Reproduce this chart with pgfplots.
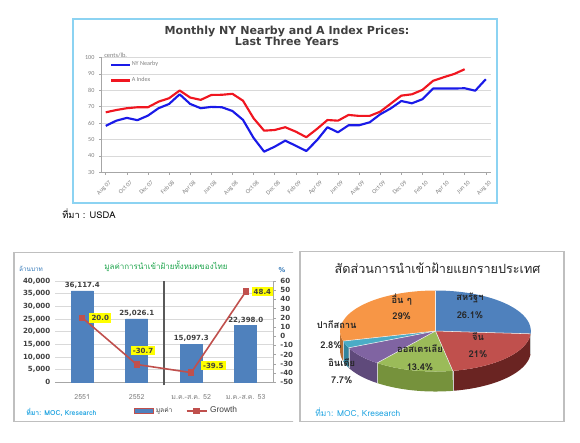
\documentclass[border=0pt]{standalone}
\usepackage{fontspec}
\usepackage{pgfplots}
\usepackage{pgfplotstable}
\pgfplotsset{compat=1.18}
\setmainfont{Carlito}
\newfontfamily\thai[Script=Thai]{Loma}
\newfontfamily\dvs{DejaVu Sans}
\newfontfamily\arial{Liberation Sans}

% colours
\definecolor{nyblue}{HTML}{1A1AE8}
\definecolor{aired}{HTML}{F01620}
\definecolor{frameblue}{HTML}{8CD3F2}
\definecolor{gridgray}{HTML}{D9D9D9}
\definecolor{axisgray}{HTML}{A6A6A6}
\definecolor{ticktext}{HTML}{7F7F7F}
\definecolor{ttldark}{HTML}{404040}
\definecolor{barblue}{HTML}{4F81BD}
\definecolor{linered}{HTML}{C0504D}
\definecolor{srcblue}{HTML}{1FA3E0}
\definecolor{unitblue}{HTML}{2E75B6}
\definecolor{ttlgreen}{HTML}{1BA34A}
\definecolor{boxgray}{HTML}{BFBFBF}
\definecolor{sepgray}{HTML}{595959}
\definecolor{labyellow}{HTML}{FFFF00}
\definecolor{pBlue}{HTML}{4F81BD}
\definecolor{pRed}{HTML}{C0504D}
\definecolor{pGreen}{HTML}{9BBB59}
\definecolor{pPurple}{HTML}{8064A2}
\definecolor{pCyan}{HTML}{4BACC6}
\definecolor{pOrange}{HTML}{F79646}
\definecolor{sBlue}{HTML}{385D8A}
\definecolor{sRed}{HTML}{6A2422}
\definecolor{sGreen}{HTML}{76923C}
\definecolor{sPurple}{HTML}{5F4A7B}
\definecolor{sCyan}{HTML}{31859C}
\definecolor{sOrange}{HTML}{B66D31}

% monthly prices, Aug 07 (m=0) to Aug 10 (m=36), cents/lb.
\pgfplotstableread{
m ny ai
0 58.3 66.6
1 61.5 68.0
2 63.2 69.1
3 61.8 69.7
4 64.6 69.7
5 69.1 73.1
6 71.7 75.2
7 77.6 79.9
8 71.7 75.6
9 69.1 74.2
10 69.9 77.2
11 69.7 77.3
12 67.4 77.9
13 62.0 73.7
14 51.0 63.0
15 42.6 55.4
16 45.6 55.8
17 49.3 57.5
18 46.2 54.8
19 43.0 51.4
20 49.5 56.4
21 57.5 61.9
22 54.4 61.5
23 58.7 65.0
24 58.7 64.4
25 60.5 64.4
26 65.4 67.0
27 69.0 71.9
28 73.5 76.8
29 72.1 77.6
30 74.6 80.3
31 81.1 85.8
32 81.1 88.0
33 81.1 90.0
34 81.3 92.9
35 79.8 nan
36 86.8 nan
}\prices

% cotton imports: value (million baht), growth (%), label offsets (pt)
\pgfplotstableread{
x val gr dx dy
0 36117.4 20.0 13.5 0
1 25026.1 -30.7 4.7 10.4
2 15097.3 -39.5 16.5 5.3
3 22398.0 48.4 12.5 0
}\imports

% pie helpers (unit ellipse, angles in degrees)
\newcommand\pietop[3]{\fill[#3] (0,0) -- plot[domain=#1:#2, samples=60] ({cos(\x)},{sin(\x)}) -- cycle;}
\newcommand\pieside[3]{\fill[#3] plot[domain=#1:#2, samples=40] ({cos(\x)},{sin(\x)})
   -- plot[domain=#1:#2, samples=40] ({cos(#1+#2-\x)},{sin(#1+#2-\x)-0.494}) -- cycle;}
\newcommand\pieedge[1]{\draw[white!85!gray, line width=0.4pt] (0,0) -- ({cos(#1)},{sin(#1)});}
\newcommand\sideedge[1]{\draw[white!60!gray, line width=0.3pt] ({cos(#1)},{sin(#1)}) -- ({cos(#1)},{sin(#1)-0.494});}

\begin{document}
\begin{tikzpicture}
\path[use as bounding box] (0pt,0pt) rectangle (435pt,-331.5pt);

% ---------- price chart ----------
\begin{scope}[x=0.75pt,y=-0.75pt]
  \draw[frameblue, line width=1.1pt] (73,19) rectangle (497,203);
  \node[font=\dvs\bfseries\fontsize{8.3}{8.8}\selectfont, text=ttldark, align=center] at (287,36)
    {Monthly NY Nearby and A Index Prices:\\Last Three Years};
  \node[anchor=west, font=\fontsize{4.8}{5}\selectfont, text=ticktext, inner sep=0pt] at (104,55) {cents/lb.};
  \node[anchor=west, font=\thai\fontsize{7}{8}\selectfont, inner sep=0pt] at (62,214) {ที่มา : USDA};
\end{scope}

\begin{axis}[
  at={(76.3pt,-129.2pt)}, anchor=south west,
  scale only axis, width=291.6pt, height=86pt,
  xmin=-0.38, xmax=36.45, ymin=30, ymax=100,
  axis x line*=bottom, axis y line*=left,
  axis line style={draw=axisgray, -},
  ytick={30,40,...,100},
  xtick={0,2,...,36},
  xticklabels={Aug 07,Oct 07,Dec 07,Feb 08,Apr 08,Jun 08,Aug 08,Oct 08,Dec 08,Feb 09,Apr 09,Jun 09,Aug 09,Oct 09,Dec 09,Feb 10,Apr 10,Jun 10,Aug 10},
  tick align=outside, major tick length=2pt,
  tick style={draw=axisgray, line width=0.4pt},
  ymajorgrids, grid style={draw=gridgray, line width=0.5pt},
  tick label style={font=\fontsize{4.6}{5}\selectfont, text=ticktext},
  x tick label style={rotate=45, anchor=north east, inner sep=0.5pt, yshift=-3.5pt, xshift=-0.5pt},
  /pgf/number format/assume math mode=true,
  legend style={at={(0.021,0.975)}, anchor=north west, draw=none, fill=none,
    font=\fontsize{4.6}{5}\selectfont, text=ticktext, row sep=6pt, inner sep=0pt,
    nodes={inner sep=0.6pt}},
  legend cell align=left,
  legend image code/.code={\draw[#1] (0pt,0pt) -- (14pt,0pt);},
  clip=false,
]
\addplot[nyblue, line width=1.6pt, line join=round] table[x=m,y=ny]{\prices};
\addlegendentry{NY Nearby}
\addplot[aired, line width=1.6pt, line join=round] table[x=m,y=ai]{\prices};
\addlegendentry{A Index}
\end{axis}

% ---------- import value chart ----------
\begin{scope}
\clip (0pt,-180pt) rectangle (219.75pt,-331.5pt);
\draw[boxgray, line width=0.8pt] (10.5pt,-189.5pt) rectangle (240pt,-316.3pt);
\begin{scope}[x=0.75pt,y=-0.75pt]
  \node[font=\thai\fontsize{6}{7}\selectfont, text=ttlgreen] at (166,266) {มูลค่าการนำเข้าฝ้ายทั้งหมดของไทย};
  \node[font=\thai\fontsize{4.8}{5}\selectfont, text=unitblue] at (31,269) {ล้านบาท};
  \node[font=\dvs\bfseries\fontsize{5}{5}\selectfont, text=unitblue] at (282,270) {\%};
  \node[anchor=west, font=\thai\bfseries\fontsize{5.2}{6}\selectfont, text=srcblue, inner sep=0pt] at (26,412) {ที่มา: MOC, Kresearch};
\end{scope}

\begin{axis}[
  at={(41.25pt,-286.7pt)}, anchor=south west,
  scale only axis, width=163.5pt, height=76pt,
  xmin=-0.5, xmax=3.5, ymin=0, ymax=40000,
  ybar, bar width=16.5pt,
  axis x line*=bottom, axis y line*=left,
  x axis line style={draw=axisgray, -},
  y axis line style={draw=none},
  tick style={draw=none},
  ytick={0,5000,...,40000},
  scaled y ticks=false,
  /pgf/number format/1000 sep={,},
  /pgf/number format/assume math mode=true,
  ymajorgrids, grid style={draw=gridgray, line width=0.5pt},
  y tick label style={font=\dvs\bfseries\fontsize{5.3}{6}\selectfont, text=ttldark},
  xtick={0,1,2,3},
  xticklabels={2551,2552,ม.ค.-ส.ค. 52,ม.ค.-ส.ค. 53},
  x tick label style={font=\thai\fontsize{5.3}{6}\selectfont, text=ticktext, yshift=-1.5pt},
  clip=false,
]
\addplot[fill=barblue, draw=barblue,
  nodes near coords={\pgfmathprintnumber[fixed,fixed zerofill,precision=1,1000 sep={,}]{\pgfplotspointmeta}},
  every node near coord/.append style={font=\dvs\bfseries\fontsize{5.3}{6}\selectfont, text=ttldark, inner sep=1.5pt}]
  table[x=x,y=val]{\imports};
\draw[sepgray, line width=1pt] (rel axis cs:0.5,-0.03) -- (rel axis cs:0.5,1);
\end{axis}

\begin{axis}[
  at={(41.25pt,-286.7pt)}, anchor=south west,
  scale only axis, width=163.5pt, height=76pt,
  xmin=-0.5, xmax=3.5, ymin=-50, ymax=60,
  axis y line*=right, axis x line=none,
  y axis line style={draw=axisgray, -},
  ytick={-50,-40,...,60},
  tick align=outside, major tick length=2pt,
  ytick style={draw=axisgray, line width=0.4pt},
  /pgf/number format/assume math mode=true,
  y tick label style={font=\dvs\bfseries\fontsize{5.3}{6}\selectfont, text=ttldark},
  legend style={at={(0.605,-0.283)}, anchor=center, draw=none, fill=none,
    legend columns=2, font=\arial\fontsize{6.3}{7}\selectfont, text=ttldark,
    /tikz/every even column/.append style={column sep=8pt}},
  legend image code/.code={\draw[mark repeat=2, mark phase=2, #1] plot coordinates {(0pt,0pt) (7.5pt,0pt) (15pt,0pt)};},
  clip=false,
]
\addlegendimage{legend image code/.code={\draw[fill=barblue, draw=linered, line width=0.4pt] (0pt,-1.7pt) rectangle (14pt,1.7pt);}}
\addlegendentry{{\thai\fontsize{5}{6}\selectfont มูลค่า}}
\addplot[linered, line width=1.2pt, mark=square*, mark size=1.8pt, mark options={fill=linered},
  nodes near coords={\pgfmathprintnumber[fixed,fixed zerofill,precision=1]{\pgfplotspointmeta}},
  point meta=explicit,
  visualization depends on={\thisrow{dx} \as \labdx},
  visualization depends on={\thisrow{dy} \as \labdy},
  every node near coord/.append style={anchor=center, xshift={\labdx*1pt}, yshift={\labdy*1pt},
     fill=labyellow, font=\dvs\bfseries\fontsize{5.3}{6}\selectfont, text=ttldark, inner sep=1.6pt}]
  table[x=x,y=gr,meta=gr]{\imports};
\addlegendentry{Growth}
\end{axis}
\end{scope}

% ---------- import share pie ----------
\begin{scope}[x=0.75pt,y=-0.75pt]
  \draw[boxgray, line width=0.8pt] (300,251.7) rectangle (564,421.7);
  \node[font=\thai\fontsize{9.5}{11}\selectfont, text=black!85] at (437.5,268) {สัดส่วนการนำเข้าฝ้ายแยกรายประเทศ};
  \node[anchor=west, font=\thai\fontsize{6.3}{7}\selectfont, text=srcblue, inner sep=0pt] at (315,413) {ที่มา: MOC, Kresearch};
\end{scope}

% shares (%): USA 26.1, China 21, Australia 13.4, India 7.7, Pakistan 2.8, others 29
\pgfmathsetmacro\aUS{90-3.6*26.1}
\pgfmathsetmacro\aCN{\aUS-3.6*21}
\pgfmathsetmacro\aAU{\aCN-3.6*13.4}
\pgfmathsetmacro\aIN{\aAU-3.6*7.7}
\pgfmathsetmacro\aPK{\aIN-3.6*2.8}
\pgfmathsetmacro\aOT{\aPK-3.6*29}
\begin{axis}[
  at={(326.6pt,-248.25pt)}, anchor=center,
  scale only axis, width=143pt, height=60.75pt,
  xmin=-1, xmax=1, ymin=-1, ymax=1,
  hide axis, clip=false,
]
\pieside{\aUS}{0}{sBlue}
\pieside{\aCN}{\aUS}{sRed}
\pieside{\aAU}{\aCN}{sGreen}
\pieside{\aIN}{\aAU}{sPurple}
\pieside{\aPK}{\aIN}{sCyan}
\pieside{-180}{\aPK}{sOrange}
\sideedge{\aUS}\sideedge{\aCN}\sideedge{\aAU}\sideedge{\aIN}\sideedge{\aPK}
\pietop{\aUS}{90}{pBlue}
\pietop{\aCN}{\aUS}{pRed}
\pietop{\aAU}{\aCN}{pGreen}
\pietop{\aIN}{\aAU}{pPurple}
\pietop{\aPK}{\aIN}{pCyan}
\pietop{\aOT}{\aPK}{pOrange}
\pieedge{90}\pieedge{\aUS}\pieedge{\aCN}\pieedge{\aAU}\pieedge{\aIN}\pieedge{\aPK}
\end{axis}

\begin{scope}[x=0.75pt,y=-0.75pt, every node/.style={font=\thai\bfseries\fontsize{7}{8}\selectfont, text=black!85, inner sep=0pt}]
  \node at (401.7,300) {อื่น ๆ};
  \node at (401.7,316) {29\%};
  \node at (470,298) {สหรัฐฯ};
  \node at (470,315) {26.1\%};
  \node at (478,337) {จีน};
  \node at (478,354) {21\%};
  \node at (420,349) {ออสเตรเลีย};
  \node at (420,367) {13.4\%};
  \node at (336.7,325) {ปากีสถาน};
  \node at (331,345) {2.8\%};
  \node at (341.7,363) {อินเดีย};
  \node at (341.7,380) {7.7\%};
\end{scope}
\end{tikzpicture}
\end{document}
